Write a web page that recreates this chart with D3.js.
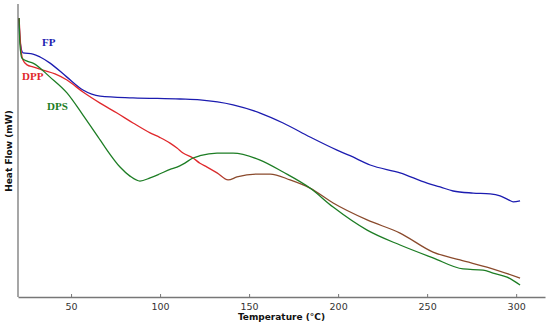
<!DOCTYPE html>
<html>
<head>
<meta charset="utf-8">
<script src="https://cdn.jsdelivr.net/npm/d3@7/dist/d3.min.js"></script>
<style>
  body { margin: 0; background: #fff; }
  figure { margin: 0; }
</style>
</head>
<body>
<figure id="dsc"></figure>
<script>
// DSC curves (flow in arbitrary units, no y ticks)
const xTicks = [50, 100, 150, 200, 250, 300];

const fpTemp = [20.8, 21.3, 23, 28.6, 32.6, 38.2, 47.7, 56.7, 66.3, 84.8, 111.2, 122.4, 141, 156.2, 169.1, 184.2, 199.4, 206.7, 218, 234.8, 250, 257.3, 264.6, 275.8, 285.4, 291, 296, 298.3, 302.2];
const fpFlow = [95.5, 88.0, 83.6, 83.2, 82.2, 80.1, 75.3, 70.9, 68.8, 68.2, 67.8, 67.5, 65.8, 63.0, 59.6, 54.8, 50.3, 48.4, 45.2, 42.5, 39.0, 37.7, 36.3, 35.6, 35.3, 34.6, 33.2, 32.6, 32.9];

const dppTemp = [20.8, 21.9, 23, 25.3, 28.6, 34.2, 41, 47.7, 56.7, 66.3, 75.8, 84.8, 94.4, 100, 105.6, 109.5, 112.9, 118.5, 122.4, 126.4, 132, 138.2, 143.2, 154.5, 161.8, 173, 184.2, 197.2, 216.3, 234.8, 253.3, 268.5, 285.4, 302.2];
const dppFlow = [95.5, 84.6, 81.2, 79.5, 78.8, 77.7, 76.4, 74.3, 70.2, 66.4, 63.0, 59.6, 56.2, 54.6, 52.7, 51.0, 49.3, 47.6, 45.8, 44.5, 42.5, 40.1, 41.1, 42.1, 42.1, 40.1, 37.3, 32.2, 26.4, 21.9, 15.4, 12.7, 9.9, 6.5];

const dpsTemp = [20.8, 21.3, 22.4, 25.3, 28.6, 38.2, 47.7, 56.7, 66.3, 70.2, 77.5, 83.1, 88.7, 94.4, 100, 105.6, 109.5, 112.9, 118.5, 122.4, 132, 141, 156.2, 169.1, 184.2, 197.2, 216.3, 234.8, 253.3, 270.2, 281.4, 287, 294.9, 302.2];
const dpsFlow = [95.5, 86.3, 81.8, 80.8, 80.1, 75.3, 69.9, 62.3, 53.8, 50.3, 44.5, 41.4, 39.7, 40.8, 42.2, 43.7, 44.5, 45.5, 47.6, 48.4, 49.3, 49.3, 46.9, 42.8, 37.3, 30.8, 22.9, 17.8, 13.4, 9.6, 9.2, 8.2, 6.8, 4.1];

const series = [
  { name: 'FP',  temp: fpTemp,  flow: fpFlow,  color: '#1c1cb0', label: [42, 46] },
  { name: 'DPP', temp: dppTemp, flow: dppFlow, color: 'url(#dppGrad)', labelColor: '#e0282c', label: [22, 80] },
  { name: 'DPS', temp: dpsTemp, flow: dpsFlow, color: '#1d7d24', label: [47, 110] }
];

const size = { width: 550, height: 326, left: 18, right: 5, top: 5, bottom: 29 };

const svg = d3.select('#dsc').append('svg')
  .attr('width', size.width)
  .attr('height', size.height);

const x = d3.scaleLinear()
  .domain([20.2, 316.2])
  .range([size.left, size.width - size.right]);

const y = d3.scaleLinear()
  .domain([0, 100])
  .range([size.height - size.bottom, size.top]);

// DPP turns brownish once it meets DPS
const grad = svg.append('defs').append('linearGradient')
  .attr('id', 'dppGrad')
  .attr('gradientUnits', 'userSpaceOnUse')
  .attr('x1', x(130)).attr('x2', x(140))
  .attr('y1', 0).attr('y2', 0);
grad.append('stop').attr('offset', 0).attr('stop-color', '#e0282c');
grad.append('stop').attr('offset', 1).attr('stop-color', '#8a4a2c');

// axes
const xAxis = svg.append('g')
  .attr('transform', `translate(0,${y(0)})`)
  .call(d3.axisBottom(x).tickValues(xTicks).tickSizeInner(-3).tickSizeOuter(0).tickPadding(6));
xAxis.select('.domain').attr('stroke', '#777').attr('stroke-width', 1.3);
xAxis.selectAll('.tick line').attr('stroke', '#777');
xAxis.selectAll('text')
  .attr('fill', '#333')
  .style('font-family', 'DejaVu Sans')
  .style('font-size', '9.5px');

svg.append('line')
  .attr('x1', size.left).attr('x2', size.left)
  .attr('y1', size.top - 1).attr('y2', y(0))
  .attr('stroke', '#777').attr('stroke-width', 1.3);

svg.append('text')
  .attr('x', (size.left + size.width - size.right) / 2)
  .attr('y', 320)
  .attr('text-anchor', 'middle')
  .style('font-family', 'DejaVu Sans')
  .style('font-weight', 'bold')
  .style('font-size', '9px')
  .attr('fill', '#111')
  .text('Temperature (°C)');

svg.append('text')
  .attr('transform', 'translate(12,151) rotate(-90)')
  .attr('text-anchor', 'middle')
  .style('font-family', 'DejaVu Sans')
  .style('font-weight', 'bold')
  .style('font-size', '9px')
  .attr('fill', '#111')
  .text('Heat Flow (mW)');

// curves
const line = d3.line()
  .x(d => x(d[0]))
  .y(d => y(d[1]))
  .curve(d3.curveMonotoneX);

series.forEach(s => {
  const pts = s.temp.map((t, i) => [t, s.flow[i]]);
  svg.append('path')
    .datum(pts)
    .attr('fill', 'none')
    .attr('stroke', s.color)
    .attr('stroke-width', 1.3)
    .attr('d', line);

  svg.append('text')
    .attr('x', s.label[0])
    .attr('y', s.label[1])
    .style('font-family', 'Liberation Serif')
    .style('font-weight', 'bold')
    .style('font-size', '11px')
    .attr('fill', s.labelColor || s.color)
    .text(s.name);
});
</script>
</body>
</html>
